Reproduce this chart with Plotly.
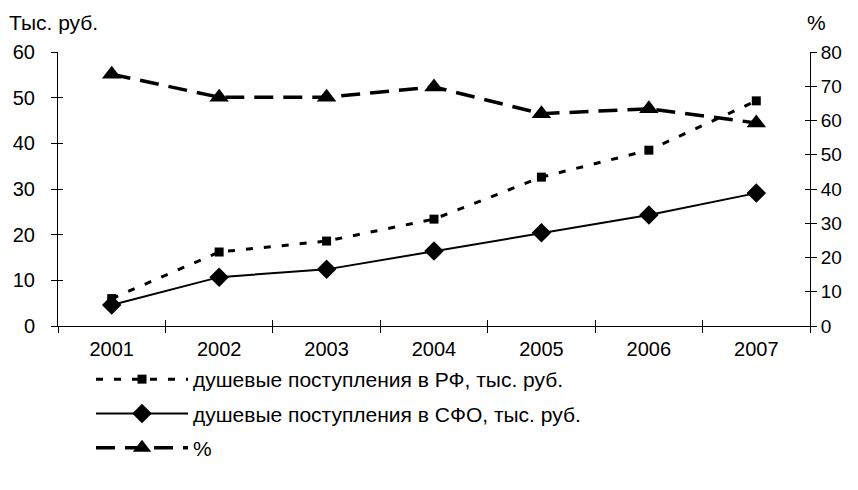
import plotly.graph_objects as go

years = ["2001", "2002", "2003", "2004", "2005", "2006", "2007"]
rf_values = [6.0, 16.2, 18.6, 23.4, 32.6, 38.5, 49.3]
sfo_values = [4.6, 10.7, 12.4, 16.4, 20.4, 24.3, 29.1]
pct_values = [73.5, 66.8, 66.8, 69.8, 62.0, 63.4, 59.3]

left_ticks = [0, 10, 20, 30, 40, 50, 60]
right_ticks = [0, 10, 20, 30, 40, 50, 60, 70, 80]

name_rf = "душевые поступления в РФ, тыс. руб."
name_sfo = "душевые поступления в СФО, тыс. руб."
name_pct = "%"

FONT = "Liberation Sans, Arial, sans-serif"
TICK_SIZE = 20
LEG_SIZE = 21

fig = go.Figure()
fig.add_trace(go.Scatter(
    x=years, y=rf_values, name=name_rf, mode="lines+markers", legendgroup="a",
    line=dict(color="black", width=3, dash="7px,11px"),
    marker=dict(symbol="square", size=9, color="black"),
    xaxis="x", yaxis="y"))
fig.add_trace(go.Scatter(
    x=years, y=sfo_values, name=name_sfo, mode="lines+markers", legendgroup="b",
    line=dict(color="black", width=2),
    marker=dict(symbol="diamond", size=15, color="black"),
    xaxis="x", yaxis="y"))
fig.add_trace(go.Scatter(
    x=years, y=pct_values, name=name_pct, mode="lines+markers", legendgroup="c",
    line=dict(color="black", width=3.5, dash="19px,10px"),
    marker=dict(symbol="triangle-up", size=17, color="black"),
    xaxis="x", yaxis="y2"))

axis_common = dict(showgrid=False, zeroline=False, linecolor="black", linewidth=1,
                   tickcolor="black", ticklen=6, tickwidth=1,
                   tickfont=dict(family=FONT, size=TICK_SIZE, color="black"))

W = 842
H = 462
PW = 752
fig.update_layout(
    width=W, height=H,
    margin=dict(l=50, r=W - 50 - PW, t=44, b=H - 44 - 274, autoexpand=False),
    plot_bgcolor="white", paper_bgcolor="white",
    font=dict(family=FONT, size=TICK_SIZE, color="black"),
    xaxis=dict(**axis_common, type="category", range=[-0.5, 6.5], showline=True,
               ticks="outside", tickson="boundaries", tickangle=0, automargin=False,
               ticklabelstandoff=5),
    xaxis2=dict(type="category", range=[-0.5, 6.5], overlaying="x",
                showline=False, ticks="inside", tickson="boundaries", ticklen=6,
                tickcolor="black", showticklabels=False, showgrid=False, zeroline=False,
                anchor="y", side="bottom", categoryarray=years, categoryorder="array"),
    yaxis=dict(**axis_common, range=[0, 60], tickvals=left_ticks, showline=True,
               ticks="outside", ticklabelstandoff=12, automargin=False),
    yaxis2=dict(showgrid=False, zeroline=False, linecolor="black", linewidth=1,
                tickcolor="black", ticklen=6, tickwidth=1,
                tickfont=dict(family=FONT, size=19, color="black"),
                range=[0, 80], tickvals=right_ticks, overlaying="y",
                side="right", anchor="x", showline=True, ticks="outside",
                ticklabelstandoff=0, automargin=False),
    yaxis3=dict(range=[0, 60], tickvals=left_ticks, overlaying="y", side="left", anchor="x",
                ticks="inside", ticklen=5, tickcolor="black", showticklabels=False,
                showgrid=False, zeroline=False, showline=False),
    yaxis4=dict(range=[0, 80], tickvals=right_ticks, overlaying="y", side="right", anchor="x",
                ticks="inside", ticklen=5, tickcolor="black", showticklabels=False,
                showgrid=False, zeroline=False, showline=False),
    legend=dict(xref="container", yref="container", x=83 / W, y=1 - 351 / H,
                xanchor="left", yanchor="top", orientation="v",
                font=dict(family=FONT, size=LEG_SIZE, color="black"),
                itemwidth=92, tracegroupgap=4, bgcolor="rgba(0,0,0,0)"),
    showlegend=True,
)
# invisible traces to activate the overlay tick axes
fig.add_trace(go.Scatter(x=years, y=[None]*7, xaxis="x2", yaxis="y3", showlegend=False, hoverinfo="skip"))
fig.add_trace(go.Scatter(x=years, y=[None]*7, xaxis="x", yaxis="y4", showlegend=False, hoverinfo="skip"))

fig.add_annotation(text="Тыс. руб.", xref="paper", yref="paper", x=-51 / PW, y=1 + 30 / 274,
                   xanchor="left", yanchor="middle", showarrow=False,
                   font=dict(family=FONT, size=LEG_SIZE, color="black"))
fig.add_annotation(text="%", xref="paper", yref="paper", x=1.0, y=1 + 30 / 274,
                   xanchor="left", yanchor="middle", showarrow=False, xshift=-5,
                   font=dict(family=FONT, size=LEG_SIZE, color="black"))

fig.write_html("out.html")
